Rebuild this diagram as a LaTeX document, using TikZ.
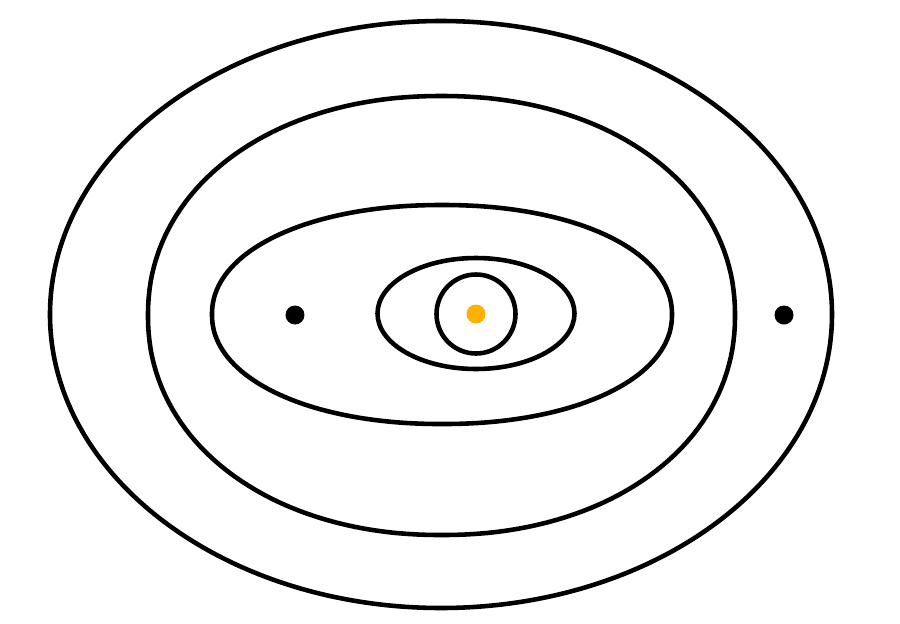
\documentclass[tikz,border=0pt]{standalone}
\definecolor{sunorange}{RGB}{255,176,0}
\begin{document}
\begin{tikzpicture}[x=0.02cm,y=-0.02cm,
  orbit/.style={line width=2.6pt, draw=black, line join=round},
  bigdot/.style={circle, fill=black, inner sep=0pt, minimum size=0.38cm},
  sundot/.style={circle, fill=sunorange, inner sep=0pt, minimum size=0.38cm}]
\useasboundingbox (0,0) rectangle (900,623);
% outer curve
\draw[orbit] (441,314.5) ellipse [x radius=391, y radius=293.5];
% second curve
\draw[orbit] plot[domain=0:358, samples=180]
  ({441.5+293.5*sign(cos(\x))*(abs(cos(\x))+0.0001)^(0.952)},
   {315.5+219.5*sign(sin(\x))*(abs(sin(\x))+0.0001)^(0.952)}) -- cycle;
% third curve
\draw[orbit] plot[domain=0:358, samples=180]
  ({442+230*sign(cos(\x))*(abs(cos(\x))+0.0001)^(0.952)},
   {314.5+109.5*sign(sin(\x))*(abs(sin(\x))+0.0001)^(0.952)}) -- cycle;
% fourth curve
\draw[orbit] (476,313.5) ellipse [x radius=98.5, y radius=55.5];
% inner circle
\draw[orbit] (476,314) circle [radius=39.5];
% dots
\node[sundot] (sun) at (476,314) {};
\node[bigdot] (left) at (295,315) {};
\node[bigdot] (right) at (784,315) {};
\end{tikzpicture}
\end{document}
